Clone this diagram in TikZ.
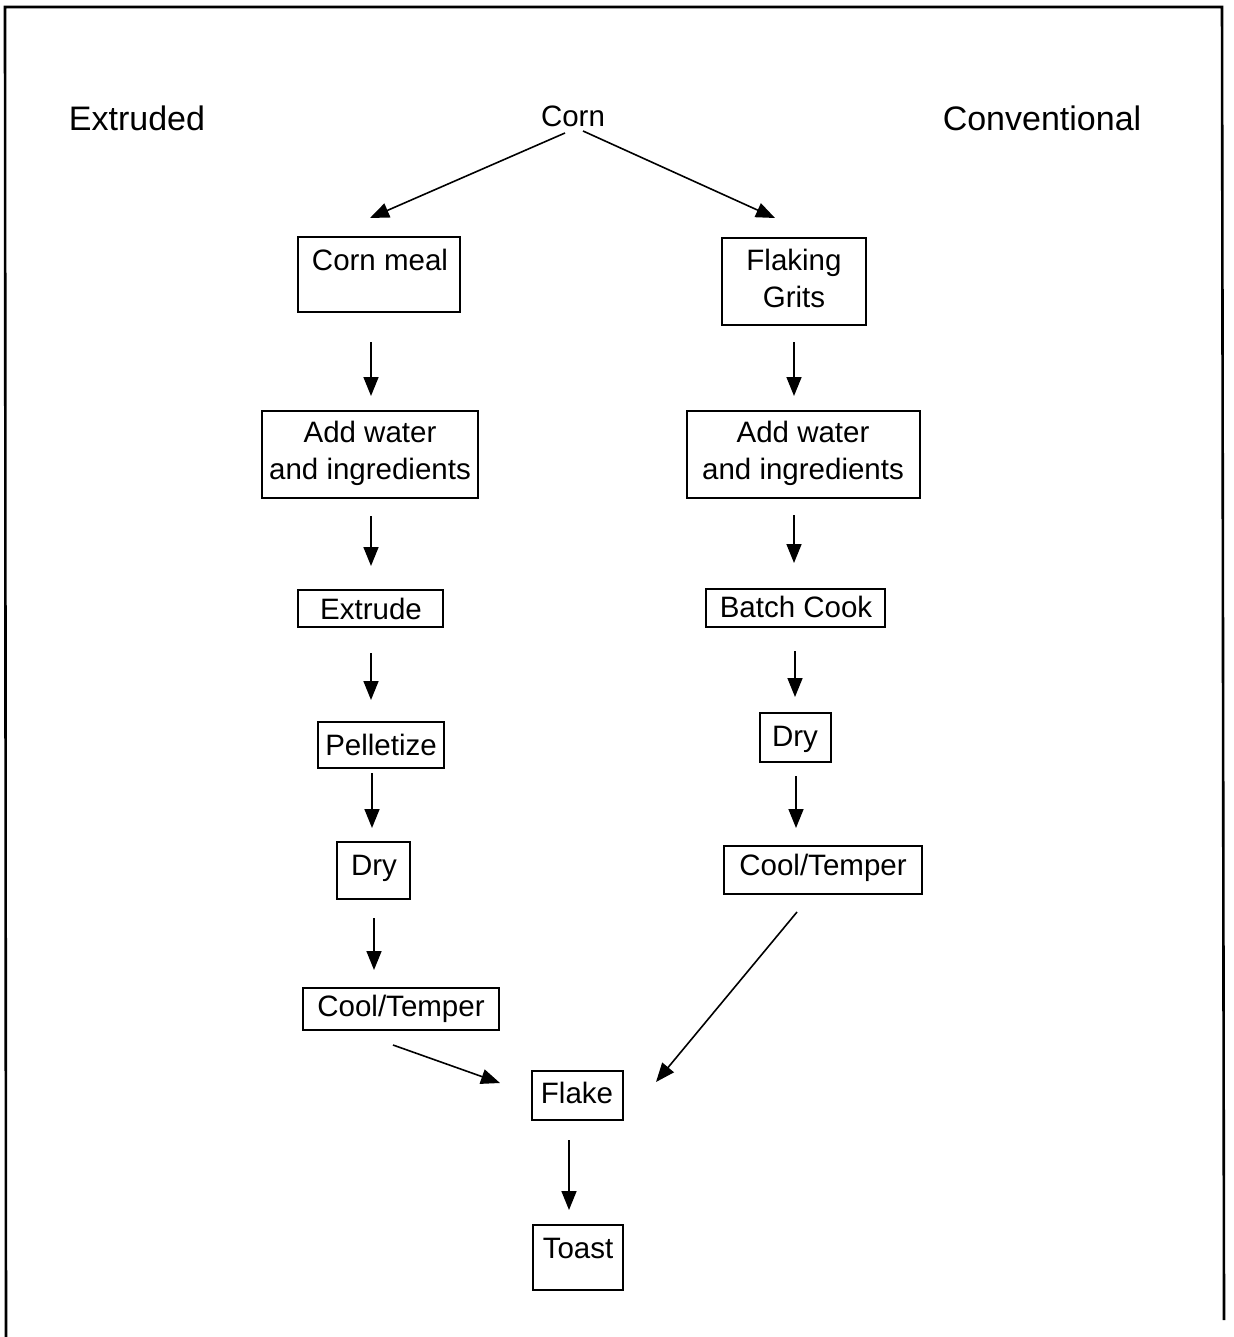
\documentclass[tikz,border=0pt]{standalone}
\usepackage{fontspec}
\setmainfont{Liberation Sans}
\usetikzlibrary{arrows.meta,calc}
\tikzset{
  box/.style={draw, line width=1.6pt, inner sep=0pt},
  txt/.style={inner sep=0pt, font=\fontsize{29.5}{37}\selectfont, align=center},
  lbl/.style={inner sep=0pt, font=\fontsize{34}{40}\selectfont},
  arr/.style={line width=1.6pt, -{Triangle[length=19pt,width=15pt]}},
  frame/.style={line width=2.6pt}
}
\begin{document}
\begin{tikzpicture}[x=1pt,y=-1pt]
\useasboundingbox (0,0) rectangle (1233,1337);
% frame
\draw[frame] (6,1337) -- (5,7) -- (1222,7) -- (1224,1320);
% labels
\node[lbl] (ext) at (137,118) {Extruded};
\node[lbl] (conv) at (1042,118) {Conventional};
\node[txt] (corn) at (573,116) {Corn};
% boxes
\node[box, minimum width=162pt, minimum height=75pt] (cm) at (379,274.5) {};
\node[txt] (cmT) at (380,260) {Corn meal};
\node[box, minimum width=144pt, minimum height=87pt] (fg) at (794,281.5) {};
\node[txt] (fgT) at (794,278) {Flaking\\Grits};
\node[box, minimum width=216pt, minimum height=87pt] (awl) at (370,454.5) {};
\node[txt] (awlT) at (370,453) {Add water\\and ingredients};
\node[box, minimum width=233pt, minimum height=87pt] (awr) at (803.5,454.5) {};
\node[txt] (awrT) at (803,453) {Add water\\and ingredients};
\node[box, minimum width=145pt, minimum height=37pt] (ex) at (370.5,608.5) {};
\node[txt] (exT) at (371,609) {Extrude};
\node[box, minimum width=179pt, minimum height=38pt] (bc) at (795.5,608) {};
\node[txt] (bcT) at (796,607) {Batch Cook};
\node[box, minimum width=126pt, minimum height=46pt] (pe) at (381,745) {};
\node[txt] (peT) at (381,745) {Pelletize};
\node[box, minimum width=71pt, minimum height=49pt] (dr) at (795.5,737.5) {};
\node[txt, anchor=base] (drT) at (795,746) {Dry};
\node[box, minimum width=73pt, minimum height=57pt] (dl) at (373.5,870.5) {};
\node[txt, anchor=base] (dlT) at (374,875) {Dry};
\node[box, minimum width=198pt, minimum height=48pt] (ctr) at (823,870) {};
\node[txt] (ctrT) at (823,868) {Cool/Temper};
\node[box, minimum width=196pt, minimum height=42pt] (ctl) at (401,1009) {};
\node[txt] (ctlT) at (401,1009) {Cool/Temper};
\node[box, minimum width=91pt, minimum height=49pt] (fl) at (577.5,1095.5) {};
\node[txt] (flT) at (577,1093) {Flake};
\node[box, minimum width=90pt, minimum height=65pt] (to) at (578,1257.5) {};
\node[txt] (toT) at (578,1248) {Toast};
% arrows
\draw[arr] ($(corn)+(-8,17)$) -- ($(cm)+(-9,-56.5)$);
\draw[arr] ($(corn)+(10,15)$) -- ($(fg)+(-19,-63.5)$);
\draw[arr] ($(cm)+(-8,67.5)$) -- ($(awl)+(1,-58.5)$);
\draw[arr] ($(awl)+(1,61.5)$) -- ($(ex)+(0.5,-42.5)$);
\draw[arr] ($(ex)+(0.5,44.5)$) -- ($(pe)+(-10,-45)$);
\draw[arr] ($(pe)+(-9,28)$) -- ($(dl)+(-1.5,-42.5)$);
\draw[arr] ($(dl)+(0.5,47.5)$) -- ($(ctl)+(-27,-39)$);
\draw[arr] ($(fg)+(0,60.5)$) -- ($(awr)+(-9.5,-58.5)$);
\draw[arr] ($(awr)+(-9.5,60.5)$) -- ($(bc)+(-1.5,-45)$);
\draw[arr] ($(bc)+(-0.5,43)$) -- ($(dr)+(-0.5,-40.5)$);
\draw[arr] ($(dr)+(0.5,38.5)$) -- ($(ctr)+(-27,-42)$);
\draw[arr] ($(ctl)+(-8,36)$) -- ($(fl)+(-77.5,-12.5)$);
\draw[arr] ($(ctr)+(-26,42)$) -- ($(fl)+(78.5,-13.5)$);
\draw[arr] ($(fl)+(-8.5,44.5)$) -- ($(to)+(-9,-47.5)$);
\end{tikzpicture}
\end{document}
